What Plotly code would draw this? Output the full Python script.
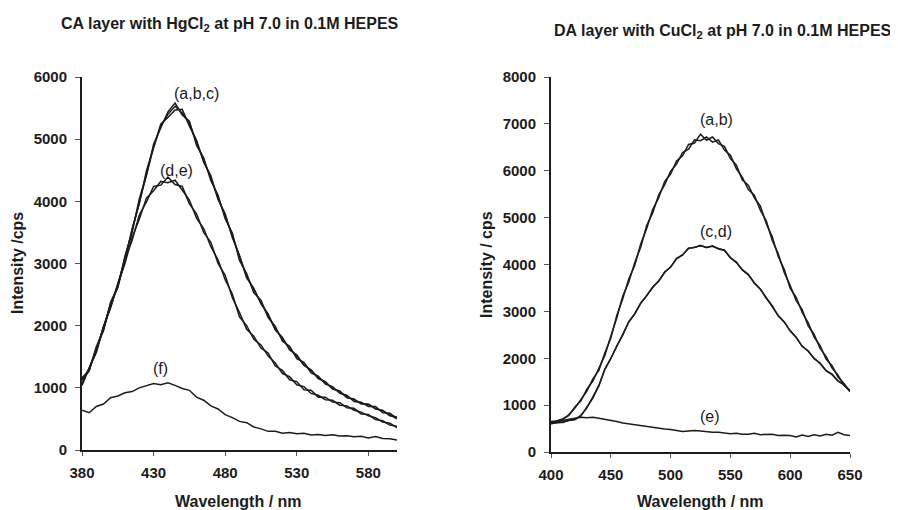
import plotly.graph_objects as go

# ---------------- data ----------------
left_wl = list(range(380, 601, 5))
left_a = [1160,1280,1660,1930,2380,2620,3120,3500,4040,4420,4920,5170,5440,5580,5390,5290,4900,4700,4330,4100,3720,3490,3050,2840,2530,2410,2130,1990,1750,1670,1470,1410,1240,1190,1060,1020,910,880,780,770,700,700,600,590,510]
left_b = [1040,1330,1590,1990,2300,2680,3050,3560,3960,4490,4850,5240,5350,5470,5480,5210,4980,4630,4410,4030,3800,3420,3130,2770,2600,2350,2190,1930,1810,1610,1530,1360,1290,1150,1100,980,950,840,820,740,740,660,640,550,530]
left_c = [1120,1310,1610,1970,2340,2640,3090,3520,4000,4440,4870,5210,5400,5530,5420,5260,4950,4650,4380,4050,3770,3440,3100,2790,2580,2370,2170,1950,1790,1630,1510,1370,1280,1160,1090,990,940,850,810,750,730,670,630,560,500]
left_d = [1140,1270,1640,1920,2360,2610,3070,3370,3780,3990,4240,4260,4390,4270,4240,3960,3800,3500,3340,3000,2810,2450,2210,1940,1830,1640,1560,1350,1280,1130,1100,970,960,850,850,770,760,680,670,580,570,490,470,400,380]
left_e = [1070,1320,1570,1970,2290,2660,3000,3420,3710,4050,4170,4320,4300,4340,4170,4020,3730,3560,3270,3060,2740,2510,2140,2000,1780,1690,1510,1400,1230,1180,1050,1020,910,880,810,800,720,710,640,610,550,520,450,430,360]
left_f = [640,600,700,740,840,870,920,940,1000,1030,1070,1050,1080,1040,990,960,850,800,710,660,570,520,460,440,370,340,300,300,270,280,260,270,240,250,235,245,225,230,215,220,195,215,185,180,160]

right_wl = list(range(400, 651, 5))
right_a = [650,660,690,800,940,1120,1300,1560,1740,2110,2430,2910,3270,3690,3980,4440,4770,5170,5420,5770,5930,6210,6320,6560,6590,6780,6650,6720,6580,6520,6260,6120,5800,5690,5420,5250,4870,4590,4170,3900,3490,3300,2980,2760,2450,2270,1980,1840,1600,1460,1290]
right_b = [620,670,710,780,960,1090,1340,1510,1780,2060,2470,2860,3330,3620,4040,4370,4830,5100,5480,5700,5990,6140,6390,6460,6660,6640,6720,6610,6660,6440,6330,6040,5860,5600,5480,5160,4930,4510,4230,3830,3550,3230,3040,2690,2510,2210,2040,1790,1640,1420,1310]
right_c = [600,630,630,680,690,780,940,1160,1410,1770,1990,2260,2490,2780,2940,3180,3330,3520,3640,3840,3940,4130,4200,4350,4360,4410,4360,4400,4330,4310,4140,4050,3880,3790,3600,3480,3280,3120,2900,2780,2580,2450,2250,2160,1990,1900,1730,1660,1510,1440,1290]
right_d = [610,620,640,670,700,770,950,1150,1420,1760,2000,2250,2500,2770,2950,3170,3340,3510,3650,3830,3950,4120,4210,4340,4370,4400,4370,4390,4340,4300,4150,4040,3890,3780,3610,3470,3290,3110,2910,2770,2590,2440,2260,2150,2000,1890,1740,1650,1520,1430,1300]
right_e = [620,650,680,700,720,740,730,740,720,700,680,650,620,600,590,560,550,530,510,490,480,460,440,450,460,450,430,420,420,400,390,400,380,380,400,370,370,380,350,360,350,320,360,330,370,340,380,360,420,370,350]

left_x_ticks = [380, 430, 480, 530, 580]
left_y_ticks = [0, 1000, 2000, 3000, 4000, 5000, 6000]
right_x_ticks = [400, 450, 500, 550, 600, 650]
right_y_ticks = [0, 1000, 2000, 3000, 4000, 5000, 6000, 7000, 8000]

left_labels = [("(a,b,c)", 460, 5730), ("(d,e)", 446, 4500), ("(f)", 435, 1310)]
right_labels = [("(a,b)", 538, 7090), ("(c,d)", 538, 4700), ("(e)", 533, 750)]

# ---------------- figure ----------------
# the page body has an 8px margin, so the figure is placed from (8, 8)
OFF = 8
W, H = 898 - OFF, 510 - OFF
FONT = "Liberation Sans, Arial, sans-serif"
INK = "#1c1c1c"

fig = go.Figure()
for ys in (left_a, left_b, left_c, left_d, left_e, left_f):
    fig.add_trace(go.Scatter(x=left_wl, y=ys, mode="lines",
                             line=dict(color=INK, width=1.5),
                             xaxis="x", yaxis="y", showlegend=False))
for ys in (right_a, right_b, right_c, right_d, right_e):
    fig.add_trace(go.Scatter(x=right_wl, y=ys, mode="lines",
                             line=dict(color=INK, width=1.5),
                             xaxis="x2", yaxis="y2", showlegend=False))

def px_x(p):
    return (p - OFF) / W

def px_y(p):
    return 1 - (p - OFF) / H

tickfont = dict(family=FONT, size=15, color=INK, weight="bold")
common_x = dict(showline=True, linecolor=INK, linewidth=2, ticks="outside",
                ticklen=4, tickwidth=1, tickcolor="#555", showgrid=False,
                zeroline=False, tickfont=tickfont, ticklabelstandoff=4,
                automargin=False)
common_y = dict(showline=True, linecolor=INK, linewidth=2, ticks="outside",
                ticklen=5, tickwidth=1, tickcolor="#555", showgrid=False,
                zeroline=False, tickfont=tickfont, ticklabelstandoff=5,
                automargin=False)

fig.update_layout(
    width=W, height=H,
    margin=dict(l=0, r=0, t=0, b=0, pad=0, autoexpand=False),
    paper_bgcolor="white", plot_bgcolor="white",
    font=dict(family=FONT, color=INK),
    xaxis=dict(domain=[px_x(82), px_x(397)], range=[380, 600],
               tickvals=left_x_ticks, anchor="y", **common_x),
    yaxis=dict(domain=[px_y(450), px_y(77)], range=[0, 6000],
               tickvals=left_y_ticks, anchor="x", **common_y),
    xaxis2=dict(domain=[px_x(551), px_x(850)], range=[400, 650],
                tickvals=right_x_ticks, anchor="y2", **common_x),
    yaxis2=dict(domain=[px_y(452), px_y(77)], range=[0, 8000],
                tickvals=right_y_ticks, anchor="x2", **common_y),
)

def note(text, x, y, size, bold=True, angle=0, xref="paper", yref="paper"):
    f = dict(family=FONT, size=size, color=INK)
    if bold:
        f["weight"] = "bold"
    return dict(text=text, x=x, y=y, xref=xref, yref=yref, textangle=angle,
                xanchor="center", yanchor="middle", showarrow=False, font=f)

ann = [
    note("CA layer with HgCl<sub>2</sub> at pH 7.0 in 0.1M HEPES", px_x(230), px_y(25), 16),
    note("DA layer with CuCl<sub>2</sub> at pH 7.0 in 0.1M HEPES", px_x(723), px_y(32), 16),
    note("Intensity /cps", px_x(17), px_y(263), 16, angle=-90),
    note("Intensity / cps", px_x(486), px_y(265), 16, angle=-90),
    note("Wavelength / nm", px_x(238), px_y(501), 16),
    note("Wavelength / nm", px_x(700), px_y(501), 16),
]
for t, xv, yv in left_labels:
    ann.append(note(t, xv, yv, 16, bold=False, xref="x", yref="y"))
for t, xv, yv in right_labels:
    ann.append(note(t, xv, yv, 16, bold=False, xref="x2", yref="y2"))
fig.update_layout(annotations=ann)

fig.write_html("out.html")
